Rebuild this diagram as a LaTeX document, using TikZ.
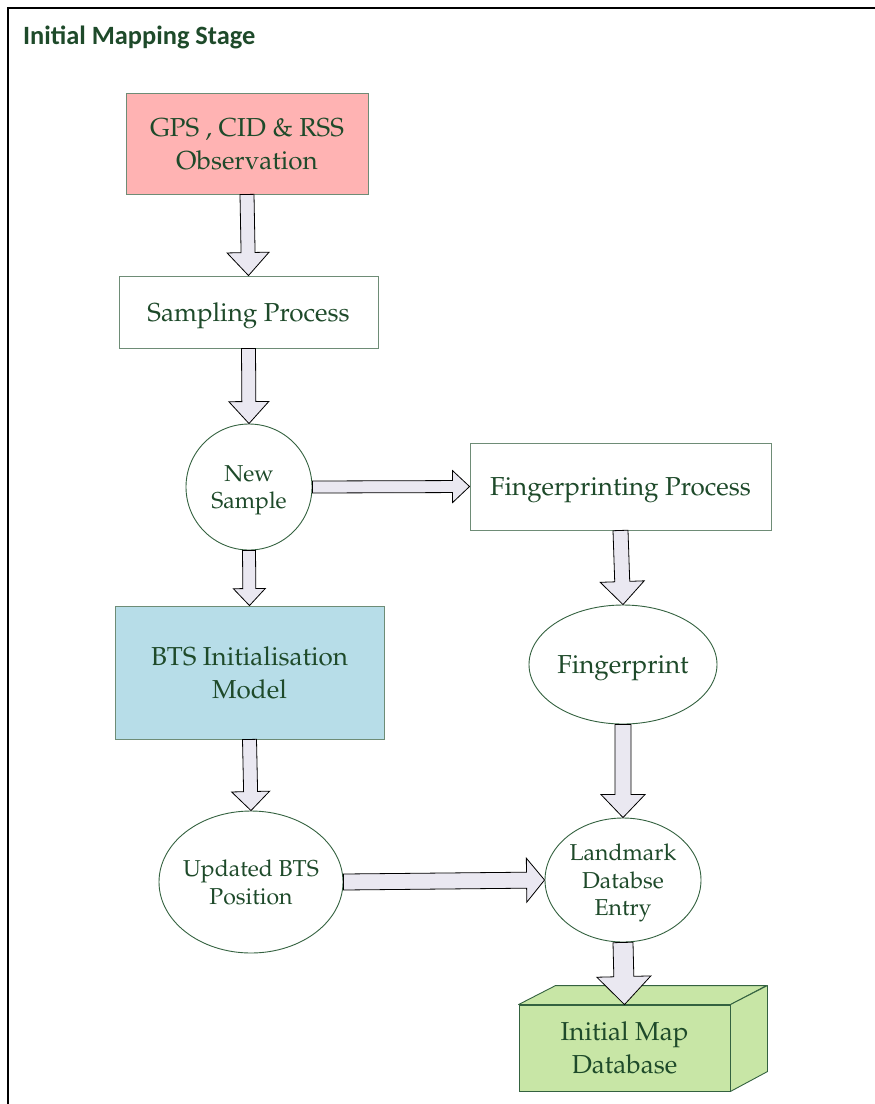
\documentclass[tikz,border=0pt]{standalone}
\usepackage[T1]{fontenc}
\usepackage{fontspec}
\usetikzlibrary{shapes.geometric,calc}
\newfontfamily\headfont{Carlito}
\newcommand\palfont{\fontencoding{T1}\fontfamily{ppl}\selectfont}

\definecolor{txtgreen}{RGB}{30,74,42}
\definecolor{boxline}{RGB}{110,140,118}
\definecolor{ovalline}{RGB}{52,98,64}
\definecolor{pinkfill}{RGB}{255,179,179}
\definecolor{bluefill}{RGB}{183,221,232}
\definecolor{greenfill}{RGB}{200,230,166}
\definecolor{arrowfill}{RGB}{234,232,241}

\tikzset{
  boxnode/.style={draw=boxline, line width=0.9pt, rectangle, inner sep=0pt, text depth=0pt,
    text=txtgreen, align=center, font=\palfont\fontsize{26}{33}\selectfont},
  ovalnode/.style={draw=ovalline, line width=0.9pt, ellipse, inner xsep=-40pt, inner ysep=-40pt,
    text depth=0pt, text=txtgreen, align=center, font=\palfont\fontsize{23}{27.5}\selectfont},
  blockarr/.style={draw=black, line width=0.8pt, fill=arrowfill, line join=miter},
}

% block arrow: start, end, shaft half-width, head half-width, head length
\newcommand\blockarrow[5]{%
  \coordinate (ba-s) at #1;
  \coordinate (ba-e) at #2;
  \coordinate (ba-h) at ($(ba-e)!#5!(ba-s)$);
  \filldraw[blockarr]
    ($(ba-s)!#3!90:(ba-e)$) -- ($(ba-h)!#3!-90:(ba-s)$) --
    ($(ba-h)!#4!-90:(ba-s)$) -- (ba-e) --
    ($(ba-h)!#4!90:(ba-s)$) -- ($(ba-h)!#3!90:(ba-s)$) --
    ($(ba-s)!#3!-90:(ba-e)$) -- cycle;
}

\begin{document}
\begin{tikzpicture}[x=1pt,y=-1pt]
\useasboundingbox[fill=white] (0,0) rectangle (875,1104);

% frame
\draw[line width=2.6pt] (8,1104) -- (8,8) -- (875,8);
\node[anchor=base west, text=txtgreen, font=\headfont\bfseries\fontsize{26.4}{30}\selectfont,
  inner sep=0pt] (title) at (23,44) {Initial Mapping Stage};

% nodes
\node[boxnode, fill=pinkfill, minimum width=242pt, minimum height=101pt]
  (obs) at (247,143.5) {GPS , CID \& RSS\\Observation};
\node[boxnode, fill=white, minimum width=259pt, minimum height=72pt]
  (samp) at (248.5,312) {Sampling Process};
\node[ovalnode, circle, minimum width=126pt, minimum height=126pt]
  (news) at (249,487) {New\\Sample};
\node[boxnode, fill=white, minimum width=301pt, minimum height=87pt]
  (fpp) at (620.5,486.5) {Fingerprinting Process};
\node[ovalnode, minimum width=188pt, minimum height=119pt,
  font=\palfont\fontsize{26}{33}\selectfont]
  (fp) at (623,664.5) {Fingerprint};
\node[boxnode, fill=bluefill, minimum width=269pt, minimum height=133pt]
  (bts) at (249.5,672.5) {BTS Initialisation\\Model};
\node[ovalnode, minimum width=184pt, minimum height=142pt]
  (upd) at (251,882) {Updated BTS\\Position};
\node[ovalnode, minimum width=156pt, minimum height=124pt]
  (lm) at (623,880) {Landmark\\Databse\\Entry};

% database cuboid
\node[boxnode, draw=ovalline, fill=greenfill, minimum width=211pt, minimum height=86pt]
  (db) at (624.5,1048) {Initial Map\\Database};
\filldraw[draw=ovalline, line width=0.9pt, fill=greenfill, line join=round]
  (db.north west) -- ++(37,-19) -- ++(211,0) -- (db.north east) -- cycle;
\filldraw[draw=ovalline, line width=0.9pt, fill=greenfill, line join=round]
  (db.north east) -- ++(37,-19) -- ++(0,86) -- (db.south east) -- cycle;

% connectors
\blockarrow{(obs.south)}{(samp.north)}{7pt}{21pt}{23pt}
\blockarrow{(samp.south)}{(news.north)}{7pt}{20pt}{22pt}
\blockarrow{(news.south)}{(bts.north)}{6.5pt}{16pt}{17pt}
\blockarrow{(news.east)}{(fpp.west)}{6pt}{16pt}{17pt}
\blockarrow{(fpp.south)}{(fp.north)}{7.5pt}{22pt}{23pt}
\blockarrow{(bts.south)}{(upd.north)}{7pt}{19pt}{19pt}
\blockarrow{(fp.south)}{(lm.north)}{8pt}{22pt}{23pt}
\blockarrow{(upd.east)}{(lm.west)}{8pt}{22pt}{18pt}
\blockarrow{(lm.south)}{(db.north)}{10pt}{27pt}{28pt}
\end{tikzpicture}
\end{document}
